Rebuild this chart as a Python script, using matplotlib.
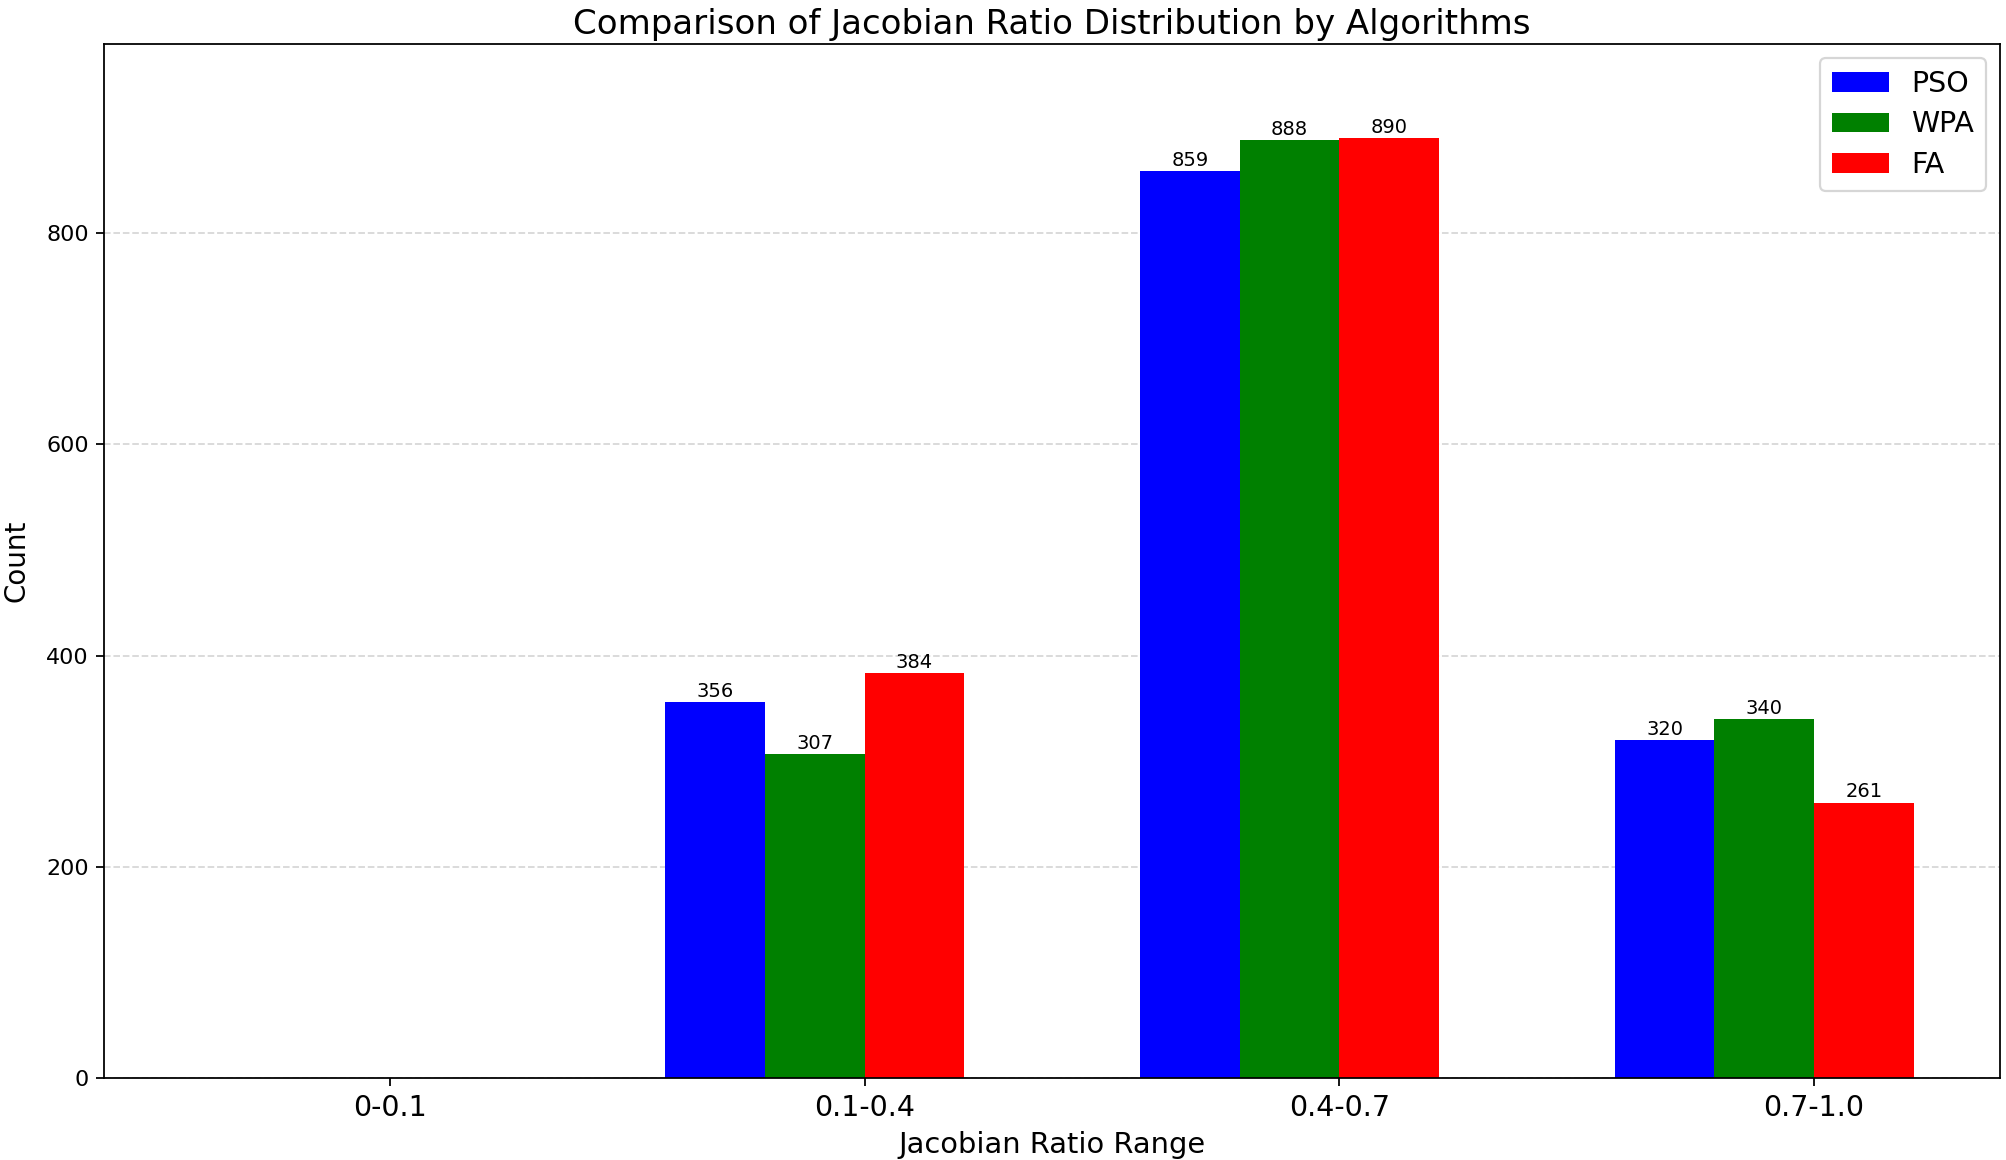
import matplotlib
matplotlib.use("Agg")
import matplotlib.pyplot as plt
import numpy as np

categories = ["0-0.1", "0.1-0.4", "0.4-0.7", "0.7-1.0"]
algorithms = ["PSO", "WPA", "FA"]
pso = [0, 356, 859, 320]
wpa = [0, 307, 888, 340]
fa = [0, 384, 890, 261]
colors = ["blue", "green", "red"]

series = [pso, wpa, fa]
DPI = 160
fig = plt.figure(figsize=(2006 / DPI, 1160 / DPI), dpi=DPI)
ax = fig.add_axes([0.052, 0.0705, 0.945, 0.8915])

x = np.arange(len(categories))
w = 0.21
for k, (vals, name, c) in enumerate(zip(series, algorithms, colors)):
    bars = ax.bar(x + (k - 1) * w, vals, w, label=name, color=c)
    for b, v in zip(bars, vals):
        if v > 0:
            ax.text(b.get_x() + b.get_width() / 2, v + 1, str(v),
                    ha="center", va="bottom", fontsize=8.8)

ax.set_xticks(x + w / 2)
ax.set_xticklabels(categories, fontsize=12.8)
ax.tick_params(axis="y", labelsize=10)
ax.set_ylim(0, max(max(s) for s in series) * 1.1)
ax.set_xlabel("Jacobian Ratio Range", fontsize=13)
ax.set_ylabel("Count", fontsize=12.5, labelpad=7)
ax.set_title("Comparison of Jacobian Ratio Distribution by Algorithms",
             fontsize=15.3, pad=4.5)
ax.yaxis.grid(True, linestyle="--", alpha=0.5)
ax.set_axisbelow(True)
ax.legend(fontsize=12.8, loc="upper right", labelspacing=0.45)

fig.savefig("out.png", dpi=DPI)
